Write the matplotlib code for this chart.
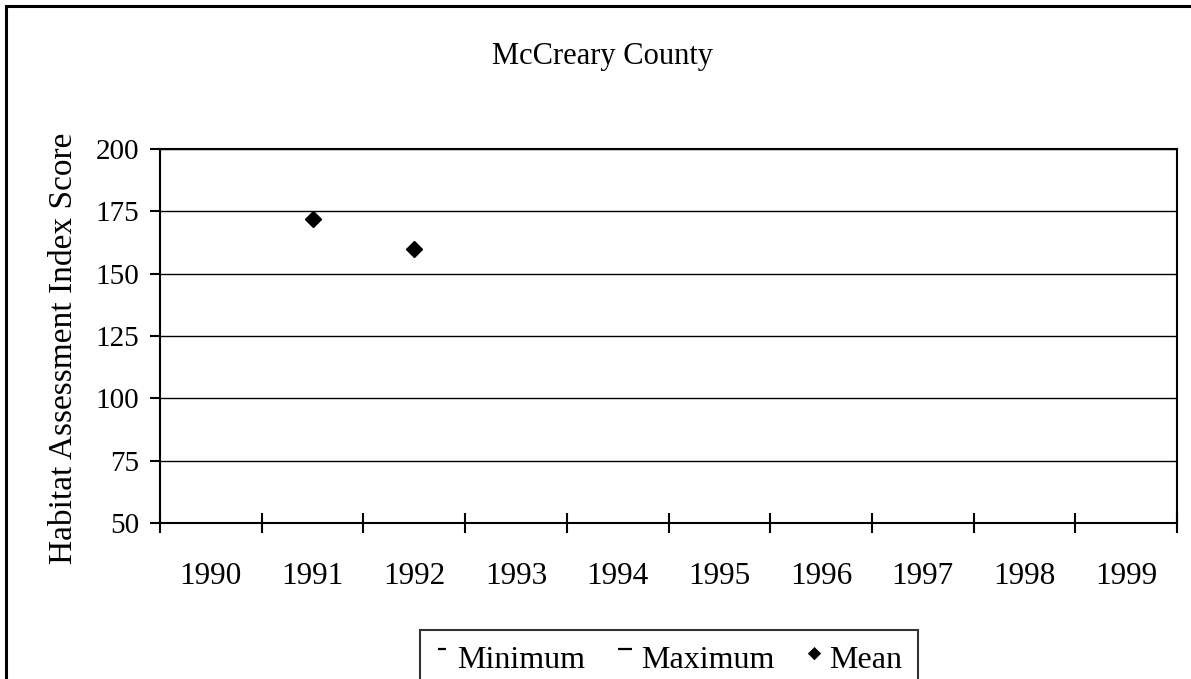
import numpy as np
import matplotlib
matplotlib.use("Agg")
import matplotlib.pyplot as plt
from matplotlib.patches import Rectangle
from matplotlib.path import Path
from matplotlib.lines import Line2D

plt.rcParams['font.family'] = ['Liberation Serif', 'DejaVu Serif']

# Survey years and habitat scores (missing years left empty)
years = ['1990', '1991', '1992', '1993', '1994', '1995', '1996', '1997', '1998', '1999']
minimum = [np.nan] * 10
maximum = [np.nan] * 10
mean = [np.nan, 172, 160, np.nan, np.nan, np.nan, np.nan, np.nan, np.nan, np.nan]
y_ticks = [50, 75, 100, 125, 150, 175, 200]

W, H = 1191, 679
fig = plt.figure(figsize=(W / 100, H / 100), dpi=100)
ax = fig.add_axes([160 / W, 1 - 523 / H, (1177 - 160) / W, (523 - 149) / H])

x = np.arange(len(years))
ax.plot(x, minimum, linestyle='none', marker='_', color='black', markersize=4)
ax.plot(x, maximum, linestyle='none', marker='_', color='black', markersize=10)
ax.plot(x, mean, linestyle='none', marker='D', color='black', markersize=8.5)

ax.set_xlim(-0.5, len(years) - 0.5)
ax.set_ylim(50, 200)
ax.set_yticks(y_ticks)
ax.set_xticks(x)
ax.set_xticklabels(years)
ax.set_xticks(np.arange(-0.5, len(years), 1.0), minor=True)

ax.tick_params(axis='x', which='major', length=0, pad=28, labelsize=22.5)
ax.tick_params(axis='x', which='minor', direction='inout', length=14, width=1.5)
ax.tick_params(axis='y', direction='out', length=7.2, width=1.5, pad=8, labelsize=21)
ax.yaxis.grid(True, color='black', linewidth=1)
ax.set_axisbelow(True)
for s in ax.spines.values():
    s.set_linewidth(1.5)

fig.text(603 / W, 1 - 64 / H, 'McCreary County', ha='center', va='baseline', fontsize=22)
fig.text(72 / W, 1 - 348 / H, 'Habitat Assessment Index Score', rotation=90,
         rotation_mode='anchor', ha='center', va='baseline', fontsize=24)

# Outer chart border, running off the right and bottom edges
fig.patches.append(Rectangle((6 / W, -0.2), 1.2, 1 - 6 / H + 0.2, transform=fig.transFigure,
                             fill=False, edgecolor='black', linewidth=2.2, zorder=0))


def raised(verts, codes):
    # anchor point below keeps the visible mark sitting above centre
    return Path([(0, -1)] + verts, [Path.MOVETO] + codes)


min_mark = raised([(-0.32, 0.75), (0.32, 0.75)], [Path.MOVETO, Path.LINETO])
max_mark = raised([(-0.6, 0.75), (0.6, 0.75)], [Path.MOVETO, Path.LINETO])
mean_mark = raised([(0, 0.9), (0.55, 0.35), (0, -0.2), (-0.55, 0.35), (0, 0.9)],
                   [Path.MOVETO, Path.LINETO, Path.LINETO, Path.LINETO, Path.CLOSEPOLY])
handles = [
    Line2D([], [], linestyle='none', marker=min_mark, color='black', markersize=16, markeredgewidth=1.6),
    Line2D([], [], linestyle='none', marker=max_mark, color='black', markersize=16, markeredgewidth=1.6),
    Line2D([], [], linestyle='none', marker=mean_mark, color='black', markersize=16, markeredgewidth=0.5),
]
leg = fig.legend(handles, ['Minimum', 'Maximum', 'Mean'], ncol=3, loc='upper left',
                 bbox_to_anchor=(420 / W, 1 - 630 / H), fontsize=23, frameon=True,
                 fancybox=False, edgecolor='black', handlelength=0.375, handletextpad=0.3,
                 columnspacing=1.05, borderpad=0.5, borderaxespad=0)
leg.get_frame().set_linewidth(1.5)

fig.savefig('out.png', dpi=100)
